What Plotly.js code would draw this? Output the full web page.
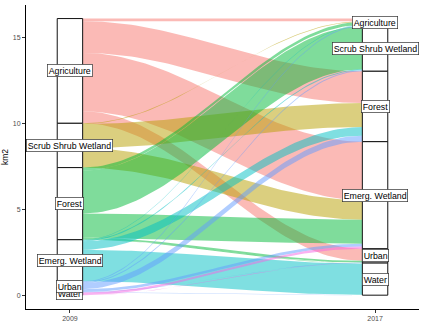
<!DOCTYPE html>
<html>
<head>
<meta charset="utf-8">
<script src="https://cdn.plot.ly/plotly-3.0.1.min.js"></script>
<style>html,body{margin:0;padding:0;background:#fff;}#chart{width:424px;height:324px;}</style>
</head>
<body>
<div id="chart"></div>
<script>
// Land cover classes (stratum order, top to bottom)
const categories = ['Agriculture', 'Scrub Shrub Wetland', 'Forest', 'Emerg. Wetland', 'Urban', 'Water'];
const years = ['2009', '2017'];
const classColors = ['#F8766D', '#B79F00', '#00BA38', '#00BFC4', '#619CFF', '#F564E3'];

// Area (km2) moving from each 2009 class to each 2017 class (same order as categories)
const fromAgriculture = [0.15, 0, 1.85, 3.4, 0.7, 0];
const fromScrubShrub  = [0.04, 0, 1.4, 1.14, 0, 0];
const fromForest      = [0.18, 2.5, 0, 1.4, 0.1, 0.02];
const fromEmergWet    = [0.03, 0.06, 0.5, 0, 0, 1.83];
const fromUrban       = [0.05, 0.06, 0.35, 0.16, 0.02, 0.02];
const fromWater       = [0, 0, 0, 0.14, 0.01, 0];

const yTicks = [0, 5, 10, 15];

const M = [fromAgriculture, fromScrubShrub, fromForest, fromEmergWet, fromUrban, fromWater];
const n = categories.length;
const sum = a => a.reduce((s, v) => s + v, 0);
const rowSum = M.map(sum);
const colSum = categories.map((_, j) => sum(M.map(r => r[j])));
const total = sum(rowSum);

const W = 1 / 12;
const xA = 1 + W / 2, xB = 2 - W / 2;

function rgba(hex, a) {
  const r = parseInt(hex.slice(1, 3), 16), g = parseInt(hex.slice(3, 5), 16), b = parseInt(hex.slice(5, 7), 16);
  return `rgba(${r},${g},${b},${a})`;
}
function bez(y0, y1, steps) {
  const k = 0.36, dx = xB - xA;
  const p = [xA, xA + k * dx, xB - k * dx, xB];
  const xs = [], ys = [];
  for (let s = 0; s <= steps; s++) {
    const t = s / steps, u = 1 - t;
    const b0 = u * u * u, b1 = 3 * u * u * t, b2 = 3 * u * t * t, b3 = t * t * t;
    xs.push(b0 * p[0] + b1 * p[1] + b2 * p[2] + b3 * p[3]);
    ys.push((b0 + b1) * y0 + (b2 + b3) * y1);
  }
  return [xs, ys];
}

// stratum tops
const topL = [], topR = [];
let acc = total;
for (let i = 0; i < n; i++) { topL.push(acc); acc -= rowSum[i]; }
acc = total;
for (let j = 0; j < n; j++) { topR.push(acc); acc -= colSum[j]; }

const traces = [];
for (let i = 0; i < n; i++) {
  for (let j = 0; j < n; j++) {
    const v = M[i][j];
    if (v <= 0) continue;
    let offL = 0; for (let k = 0; k < j; k++) offL += M[i][k];
    let offR = 0; for (let k = 0; k < i; k++) offR += M[k][j];
    const t0 = topL[i] - offL, b0 = t0 - v;
    const t1 = topR[j] - offR, b1 = t1 - v;
    const [xt, yt] = bez(t0, t1, 60);
    const [xb, yb] = bez(b0, b1, 60);
    traces.push({
      type: 'scatter', mode: 'lines', hoverinfo: 'skip', showlegend: false,
      x: xt.concat(xb.slice().reverse()), y: yt.concat(yb.slice().reverse()),
      fill: 'toself', fillcolor: rgba(classColors[i], 0.5), line: {width: 0}
    });
  }
}

// strata boxes
const annotations = [];
[[1, rowSum, topL], [2, colSum, topR]].forEach(([xc, sizes, tops]) => {
  for (let i = 0; i < n; i++) {
    const t = tops[i], b = t - sizes[i];
    traces.push({
      type: 'scatter', mode: 'lines', hoverinfo: 'skip', showlegend: false,
      x: [xc - W / 2, xc + W / 2, xc + W / 2, xc - W / 2, xc - W / 2],
      y: [b, b, t, t, b],
      fill: 'toself', fillcolor: '#ffffff', line: {color: '#111', width: 1}
    });
  }
  for (let i = n - 1; i >= 0; i--) {
    annotations.push({
      x: xc, y: tops[i] - sizes[i] / 2, xref: 'x', yref: 'y',
      text: categories[i], showarrow: false,
      font: {family: 'Liberation Sans, Arial, sans-serif', size: 8.8, color: '#000'},
      bgcolor: '#ffffff', bordercolor: '#333', borderwidth: 0.7, borderpad: 1
    });
  }
});

const layout = {
  width: 424, height: 324,
  margin: {l: 26, r: 5, t: 5, b: 15},
  paper_bgcolor: '#fff', plot_bgcolor: '#fff',
  showlegend: false,
  font: {family: 'Liberation Sans, Arial, sans-serif'},
  xaxis: {
    range: [0.856, 2.144], tickvals: [1, 2], ticktext: years,
    showgrid: false, zeroline: false, showline: true, linecolor: '#000', linewidth: 1,
    ticks: 'outside', ticklen: 3, tickcolor: '#333', tickwidth: 1,
    tickfont: {size: 7, color: '#4D4D4D'}, fixedrange: true
  },
  yaxis: {
    range: [-0.805, 16.9], tickvals: yTicks,
    showgrid: false, zeroline: false, showline: true, linecolor: '#000', linewidth: 1,
    ticks: 'outside', ticklen: 3, tickcolor: '#333', tickwidth: 1,
    tickfont: {size: 7, color: '#4D4D4D'},
    title: {text: 'km2', font: {size: 8.5, color: '#000'}, standoff: 5}, fixedrange: true
  },
  annotations: annotations
};

Plotly.newPlot('chart', traces, layout, {staticPlot: true, displayModeBar: false});
</script>
</body>
</html>
